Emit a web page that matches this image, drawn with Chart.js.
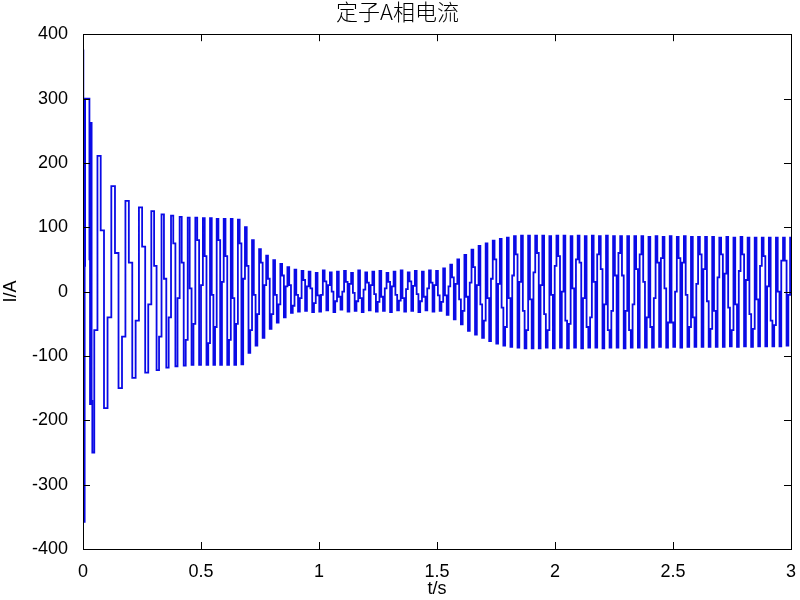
<!DOCTYPE html>
<html lang="zh">
  <head>
    <meta charset="UTF-8" />
    <title>定子A相电流</title>
    <script src="https://cdn.jsdelivr.net/npm/chart.js@4.4.1/dist/chart.umd.min.js"></script>
    <style>
      body { margin: 0; background: #fff; }
    </style>
  </head>
  <body>
    <canvas id="myChart" width="800" height="600"></canvas>
    <script>
      // extrema of the stator current (t in s, I in A)
      const timeS = [
        0.000, 0.006, 0.010, 0.026, 0.031, 0.035, 0.041, 0.068, 0.096, 0.128,
        0.158, 0.187, 0.216, 0.244, 0.270, 0.296, 0.317, 0.338, 0.358, 0.378,
        0.396, 0.414, 0.431, 0.448, 0.464, 0.480, 0.496, 0.512, 0.527, 0.542,
        0.556, 0.570, 0.585,
        0.600, 0.615, 0.630, 0.645, 0.660, 0.675, 0.690, 0.705, 0.720, 0.735,
        0.750, 0.765, 0.780, 0.795, 0.810, 0.825, 0.840, 0.855, 0.870, 0.885,
        0.900, 0.915, 0.930, 0.945, 0.960, 0.975, 0.990, 1.005, 1.020, 1.035,
        1.050, 1.065, 1.080, 1.095, 1.110, 1.125, 1.140, 1.155, 1.170, 1.185,
        1.200, 1.215, 1.230, 1.245, 1.260, 1.275, 1.290, 1.305, 1.320, 1.335,
        1.350, 1.365, 1.380, 1.395, 1.410, 1.425, 1.440, 1.455, 1.470, 1.485,
        1.500, 1.515, 1.530, 1.545, 1.560, 1.575, 1.590, 1.605, 1.620, 1.635,
        1.650, 1.665, 1.680, 1.695, 1.710, 1.725, 1.740, 1.755, 1.770, 1.785,
        1.800, 1.815, 1.830, 1.845, 1.860, 1.875, 1.890, 1.905, 1.920, 1.935,
        1.950, 1.965, 1.980, 1.995, 2.010, 2.025, 2.040, 2.055, 2.070, 2.085,
        2.100, 2.115, 2.130, 2.145, 2.160, 2.175, 2.190, 2.205, 2.220, 2.235,
        2.250, 2.265, 2.280, 2.295, 2.310, 2.325, 2.340, 2.355, 2.370, 2.385,
        2.400, 2.415, 2.430, 2.445, 2.460, 2.475, 2.490, 2.505, 2.520, 2.535,
        2.550, 2.565, 2.580, 2.595, 2.610, 2.625, 2.640, 2.655, 2.670, 2.685,
        2.700, 2.715, 2.730, 2.745, 2.760, 2.775, 2.790, 2.805, 2.820, 2.835,
        2.850, 2.865, 2.880, 2.895, 2.910, 2.925, 2.940, 2.955, 2.970, 2.985,
        3.000
      ];
      const currentA = [
        375, -358, 300, 300, -175, 262, -250, 211, -181, 164,
        -150, 141, -134, 131, -126, 125, -122, 120, -118, 118,
        -116, 116, -115, 115, -114, 115, -114, 114, -114, 114,
        -114, 113, -114,
        113, -114, 113, -114, 112, -113, 100, -95, 80, -84,
        66, -72, 56, -58, 49, -48, 43, -40, 38, -33,
        34, -31, 32, -30, 31, -32, 29, -31, 33, -29,
        30, -32, 31, -28, 32, -31, 29, -30, 33, -32,
        30, -29, 31, -31, 32, -30, 29, -32, 31, -29,
        33, -31, 30, -30, 32, -32, 31, -29, 33, -31,
        32, -30, 36, -36, 42, -43, 50, -51, 57, -61,
        65, -67, 71, -72, 75, -77, 79, -81, 82, -84,
        84, -86, 86, -87, 87, -88, 87, -88, 87, -88,
        87, -87, 86, -88, 87, -87, 87, -88, 86, -87,
        87, -88, 86, -87, 87, -87, 86, -88, 87, -87,
        86, -87, 86, -88, 86, -87, 86, -87, 86, -87,
        85, -87, 86, -86, 85, -87, 86, -86, 85, -87,
        86, -86, 85, -86, 85, -86, 85, -86, 85, -86,
        84, -86, 85, -85, 84, -86, 85, -85, 84, -86,
        84, -85, 84, -85, 84, -85, 84, -85, 84, -84,
        84
      ];
      // intermediate staircase level held between two consecutive extrema
      const stepA = [
        -250, 40, 300, 50, 60, -170, -60, 95, -40, 60,
        -70, 45, -45, 70, -20, 40, -70, 20, -40, 75,
        -10, 45, -75, 5, -50, 80, 10, 55, -80, -5,
        -55, 80, 15,
        55, -75, -10, -50, 75, 20, 40, -60, -5, -35,
        45, 10, 20, -35, -5, -20, 25, 8, 10, -22,
        -5, -10, 18, 8, 5, -18, -6, -5, 16, 10,
        0, -15, -8, 0, 15, 12, -2, -15, -10, 3,
        14, 10, -4, -16, -8, 5, 15, 8, -5, -14,
        -10, 4, 16, 9, -4, -15, -8, 5, 14, 10,
        -6, -16, -6, 8, 22, 12, -12, -30, -8, 14,
        38, 10, -20, -45, -10, 20, 50, 12, -25, -55,
        -10, 25, 58, 15, -30, -60, -12, 30, 60, 10,
        -35, -60, -5, 40, 55, 0, -45, -50, 5, 50,
        45, -10, -55, -40, 15, 58, 35, -20, -60, -30,
        25, 60, 25, -30, -60, -20, 35, 58, 15, -40,
        -55, -10, 45, 52, 5, -48, -48, 0, 52, 45,
        -5, -55, -40, 12, 58, 35, -15, -58, -30, 22,
        58, 28, -25, -60, -20, 32, 58, 18, -35, -58,
        -12, 40, 55, 8, -45, -52, 0, 48, 48, -5
      ];
      const xTicks = [0, 0.5, 1, 1.5, 2, 2.5, 3];
      const xTickLabels = ['0', '0.5', '1', '1.5', '2', '2.5', '3'];
      const yTicks = [-400, -300, -200, -100, 0, 100, 200, 300, 400];

      const tickFont = { family: '"Liberation Sans", Arial, sans-serif', size: 18 };

      // each extremum, then its staircase level half way to the next one
      const points = [];
      timeS.forEach((t, i) => {
        points.push({ x: t, y: currentA[i] });
        if (i < stepA.length) points.push({ x: (t + timeS[i + 1]) / 2, y: stepA[i] });
      });

      // MATLAB style box with inward ticks on all four sides
      const boxPlugin = {
        id: 'box',
        afterDraw(chart) {
          const { ctx, chartArea: a, scales } = chart;
          ctx.save();
          ctx.strokeStyle = '#000';
          ctx.lineWidth = 1;
          ctx.beginPath();
          scales.x.ticks.forEach(t => {
            const px = Math.round(scales.x.getPixelForValue(t.value)) + 0.5;
            ctx.moveTo(px, a.bottom); ctx.lineTo(px, a.bottom - 7);
            ctx.moveTo(px, a.top); ctx.lineTo(px, a.top + 7);
          });
          scales.y.ticks.forEach(t => {
            const py = Math.round(scales.y.getPixelForValue(t.value)) + 0.5;
            ctx.moveTo(a.left, py); ctx.lineTo(a.left + 7, py);
            ctx.moveTo(a.right, py); ctx.lineTo(a.right - 7, py);
          });
          ctx.stroke();
          ctx.strokeRect(Math.round(a.left) + 0.5, Math.round(a.top) + 0.5,
            Math.round(a.right - a.left), Math.round(a.bottom - a.top));
          ctx.restore();
        }
      };

      const ctx = document.getElementById('myChart').getContext('2d');
      const myChart = new Chart(ctx, {
        type: 'line',
        data: {
          datasets: [{
            data: points,
            borderColor: 'rgb(10, 10, 230)',
            borderWidth: 1.8,
            pointRadius: 0,
            stepped: 'middle',
            fill: false
          }]
        },
        options: {
          responsive: false,
          animation: false,
          layout: { padding: { left: 0, right: 5, top: 0, bottom: 0 } },
          plugins: {
            legend: { display: false },
            tooltip: { enabled: false },
            title: {
              display: true,
              text: '定子A相电流',
              color: '#000',
              font: { family: '"Noto Sans CJK SC", sans-serif', size: 22, weight: 300, lineHeight: 1.1 },
              padding: { top: 0, bottom: 10 }
            }
          },
          scales: {
            x: {
              type: 'linear',
              min: 0,
              max: 3,
              afterBuildTicks: s => { s.ticks = xTicks.map(v => ({ value: v })); },
              afterFit: s => { s.height = 51; },
              grid: { display: false },
              border: { display: false },
              ticks: {
                color: '#000', font: tickFont, padding: 4, maxRotation: 0,
                callback: (v, i) => xTickLabels[i]
              },
              title: { display: true, text: 't/s', color: '#000', font: tickFont, padding: { top: 0, bottom: 0 } }
            },
            y: {
              min: -400,
              max: 400,
              afterBuildTicks: s => { s.ticks = yTicks.map(v => ({ value: v })); },
              afterFit: s => { s.width = 83; },
              grid: { display: false },
              border: { display: false },
              ticks: { color: '#000', font: tickFont, padding: 7 },
              title: { display: true, text: 'I/A', color: '#000', font: tickFont, padding: { top: 0, bottom: 0 } }
            }
          }
        },
        plugins: [boxPlugin]
      });
    </script>
  </body>
</html>
